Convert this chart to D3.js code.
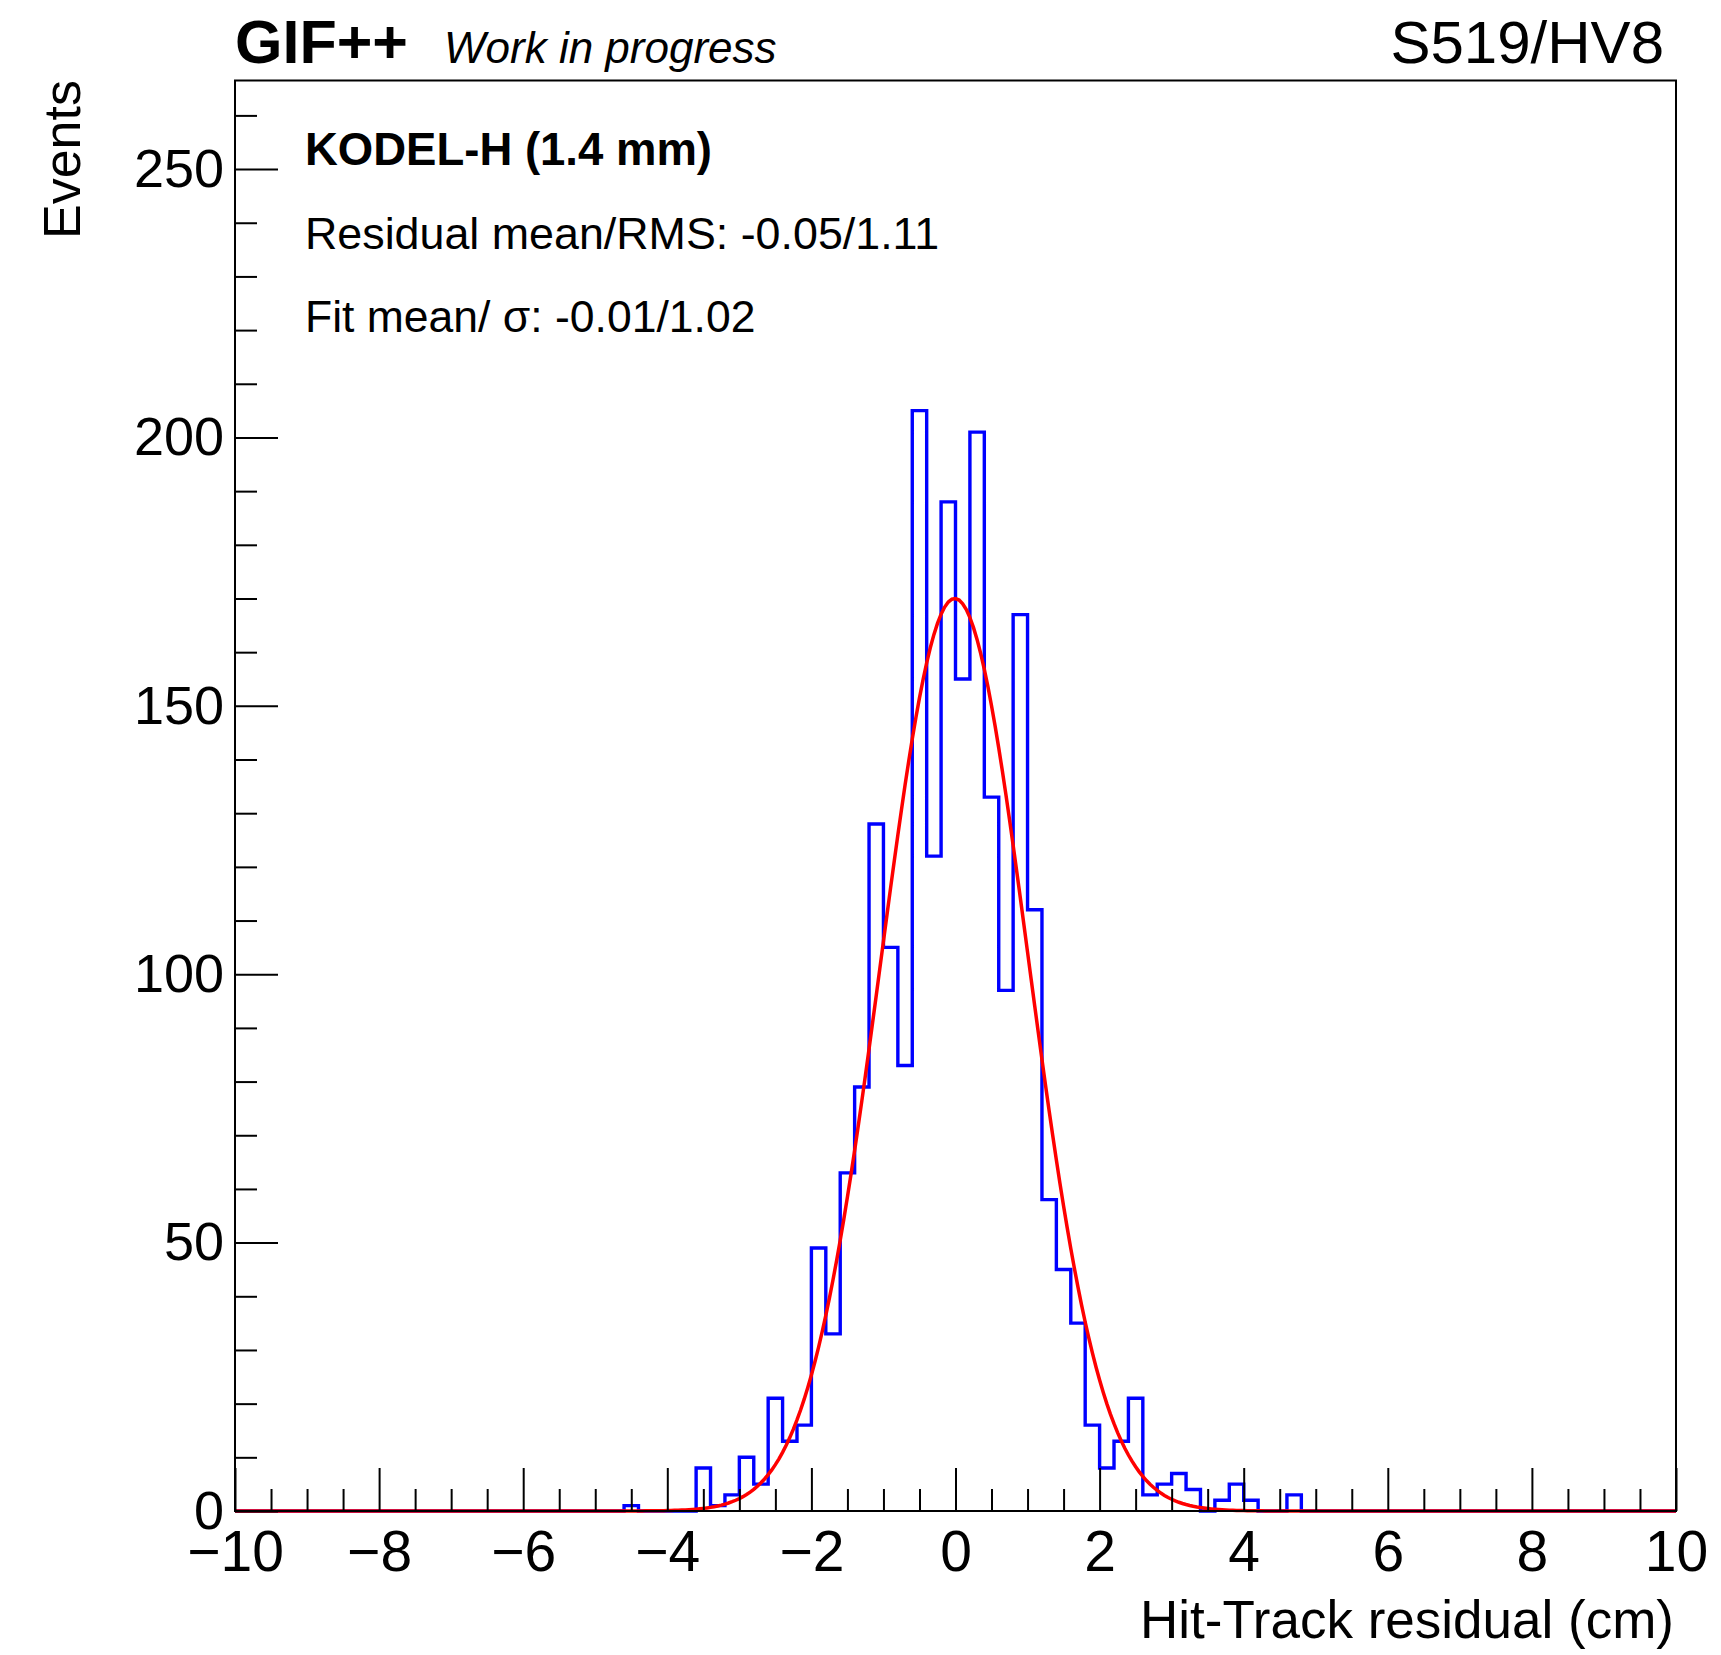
<!DOCTYPE html>
<html><head><meta charset="utf-8">
<script src="https://cdn.jsdelivr.net/npm/d3@7"></script>
<style>
body{margin:0;background:#fff}
svg{display:block}
text{font-family:"Liberation Sans", Arial, Helvetica, sans-serif;fill:#000}
</style>
</head><body>
<svg id="chart" width="1721" height="1655"></svg>
<script>
// ---- data ----
const histLow = -10, histHigh = 10, binWidth = 0.2;
// counts per 0.2 cm bin, from -10 to 10 (100 bins)
const counts = [
  0,0,0,0,0,0,0,0,0,0,
  0,0,0,0,0,0,0,0,0,0,
  0,0,0,0,0,0,0,1,0,0,
  0,0,8,1,3,10,5,21,13,16,
  49,33,63,79,128,105,83,205,122,188,
  155,201,133,97,167,112,58,45,35,16,
  8,13,21,3,5,7,4,0,2,5,
  2,0,0,3,0,0,0,0,0,0,
  0,0,0,0,0,0,0,0,0,0,
  0,0,0,0,0,0,0,0,0,0
];
const fitMean = -0.01, fitSigma = 1.02, fitAmplitude = 170;
const xMajorTicks = [-10,-8,-6,-4,-2,0,2,4,6,8,10];
const xMinorTicks = [-9.5,-9,-8.5,-7.5,-7,-6.5,-5.5,-5,-4.5,-3.5,-3,-2.5,-1.5,-1,-0.5,0.5,1,1.5,2.5,3,3.5,4.5,5,5.5,6.5,7,7.5,8.5,9,9.5];
const yMajorTicks = [0,50,100,150,200,250];
const yMinorTicks = [10,20,30,40,60,70,80,90,110,120,130,140,160,170,180,190,210,220,230,240,260];
const yMax = 266.5;
const xTitle = "Hit-Track residual (cm)";
const yTitle = "Events";
const infoLines = ["KODEL-H (1.4 mm)", "Residual mean/RMS: -0.05/1.11", "Fit mean/ \u03c3: -0.01/1.02"];

// ---- layout ----
const L = 235, R = 1676, T = 80.5, B = 1511;
const svg = d3.select("#chart");
svg.append("rect").attr("width",1721).attr("height",1655).attr("fill","#fff");

const x = d3.scaleLinear().domain([histLow, histHigh]).range([L, R]);
const y = d3.scaleLinear().domain([0, yMax]).range([B, T]);

// histogram outline
const pts = [];
counts.forEach((c,i) => {
  const x0 = histLow + i*binWidth, x1 = x0 + binWidth;
  pts.push([x0,c]); pts.push([x1,c]);
});
const line = d3.line().x(d => x(d[0])).y(d => y(d[1]));
svg.append("path").attr("d", line(pts)).attr("fill","none")
   .attr("stroke","#0000ff").attr("stroke-width",3.4).attr("stroke-linejoin","miter");

// fit curve
const fitPts = d3.range(0, 401).map(k => {
  const xv = histLow + k*(histHigh-histLow)/400;
  return [xv, fitAmplitude*Math.exp(-0.5*Math.pow((xv-fitMean)/fitSigma,2))];
});
svg.append("path").attr("d", line(fitPts)).attr("fill","none")
   .attr("stroke","#ff0000").attr("stroke-width",3.5);

// axes
const gx = svg.append("g").attr("transform",`translate(0,${B})`);
gx.call(d3.axisBottom(x).tickValues(xMajorTicks).tickSize(-43).tickPadding(20).tickFormat(d3.format("")));
gx.selectAll("text").attr("font-size",57).attr("font-family",'"Liberation Sans", Arial, sans-serif');
const gxm = svg.append("g").attr("transform",`translate(0,${B})`);
gxm.call(d3.axisBottom(x).tickValues(xMinorTicks).tickSize(-22).tickFormat(""));

const gy = svg.append("g").attr("transform",`translate(${L},0)`);
gy.call(d3.axisLeft(y).tickValues(yMajorTicks).tickSize(-43).tickPadding(11).tickFormat(d3.format("")));
gy.selectAll("text").attr("font-size",54).attr("font-family",'"Liberation Sans", Arial, sans-serif');
const gym = svg.append("g").attr("transform",`translate(${L},0)`);
gym.call(d3.axisLeft(y).tickValues(yMinorTicks).tickSize(-22).tickFormat(""));

svg.selectAll(".domain").remove();
svg.selectAll(".tick line").attr("stroke","#000").attr("stroke-width",2);

// frame
svg.append("rect").attr("x",L).attr("y",T).attr("width",R-L).attr("height",B-T)
   .attr("fill","none").attr("stroke","#000").attr("stroke-width",2);

// titles
svg.append("text").attr("x",1674).attr("y",1638).attr("text-anchor","end")
   .attr("font-size",53).text(xTitle);
svg.append("text").attr("transform","translate(80,80) rotate(-90)").attr("text-anchor","end")
   .attr("font-size",52).text(yTitle);

svg.append("text").attr("x",235).attr("y",63).attr("font-size",61).attr("font-weight","bold").text("GIF++");
svg.append("text").attr("x",444).attr("y",63).attr("font-size",44).attr("font-style","italic").text("Work in progress");
svg.append("text").attr("x",1664).attr("y",63).attr("font-size",60).attr("text-anchor","end").text("S519/HV8");

svg.append("text").attr("x",305).attr("y",165).attr("font-size",45.5).attr("font-weight","bold").text(infoLines[0]);
svg.append("text").attr("x",305).attr("y",249).attr("font-size",44.8).text(infoLines[1]);
svg.append("text").attr("x",305).attr("y",332).attr("font-size",44.5).text(infoLines[2]);
</script>
</body></html>
